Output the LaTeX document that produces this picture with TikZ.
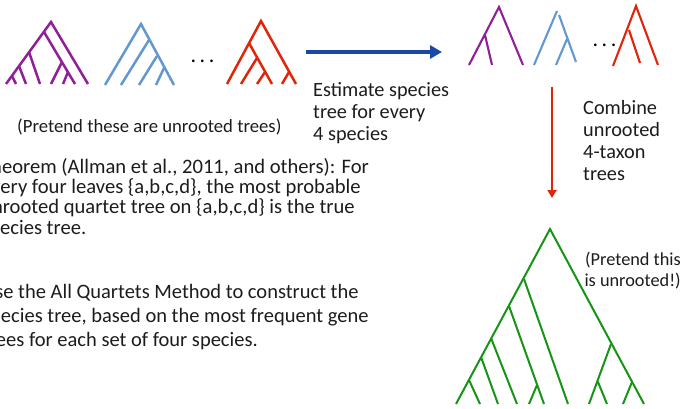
\documentclass[tikz,border=0pt]{standalone}
\usepackage{fontspec}
\setmainfont{Carlito}
\usetikzlibrary{arrows.meta}
\definecolor{gpurple}{RGB}{143,32,150}
\definecolor{gblue}{RGB}{98,152,206}
\definecolor{gred}{RGB}{224,38,10}
\definecolor{sgreen}{RGB}{22,148,22}
\definecolor{arrblue}{RGB}{24,72,168}
\definecolor{txt}{RGB}{28,28,28}
\tikzset{
  gbranch/.style={line width=2.5pt},
  qbranch/.style={line width=2.1pt},
  sbranch/.style={line width=2pt, sgreen},
  arr/.style={-{Triangle[length=12pt, width=13pt]}, line width=4pt, arrblue},
  rarr/.style={-{Triangle[length=8pt, width=9pt]}, line width=2.6pt, gred},
  note/.style={inner sep=0pt, align=left, text=txt, anchor=base west},
  dots/.style={inner sep=0pt, anchor=base, text=black, font=\fontsize{22}{26}\selectfont},
}

\begin{document}
\begin{tikzpicture}[x=1pt, y=-1pt]
\useasboundingbox (0,0) rectangle (685,409);
\clip (0,0) rectangle (685,409);

% gene trees
\foreach \x [count=\i] in {6,16,26,40,51,63,75,88} \coordinate (pl\i) at (\x,84);
\coordinate (pr) at (51,22);
\coordinate (pa) at (44,32);
\coordinate (pb) at (29,52);
\coordinate (pc) at (19,66);
\coordinate (pd) at (12,76);
\coordinate (pe) at (62,62);
\coordinate (pf) at (68,72);
\draw[gbranch, gpurple] (pl1) -- (pr) -- (pl8);
\draw[gbranch, gpurple] (pa) -- (pl7) (pb) -- (pl4) (pc) -- (pl3) (pd) -- (pl2) (pe) -- (pl5) (pf) -- (pl6);

\foreach \x [count=\i] in {105,121,139,156,174} \coordinate (bl\i) at (\x,85);
\coordinate (br) at (141,24);
\coordinate (ba) at (149,40);
\coordinate (bb) at (157,56);
\coordinate (bc) at (164,68);
\draw[gbranch, gblue] (bl1) -- (br) -- (bl5);
\draw[gbranch, gblue] (ba) -- (bl2) (bb) -- (bl3) (bc) -- (bl4);

\node[dots] (gdots) at (202.5,63) {.\,.\,.};

\foreach \x [count=\i] in {227,241,257,272,282,296} \coordinate (rl\i) at (\x,84);
\coordinate (rr) at (261,21);
\coordinate (ra) at (249,43);
\coordinate (rb) at (257,58);
\coordinate (rc) at (265,72);
\coordinate (rd) at (289,72);
\draw[gbranch, gred] (rl1) -- (rr) -- (rl6);
\draw[gbranch, gred] (ra) -- (rl4) (rb) -- (rl2) (rc) -- (rl3) (rd) -- (rl5);

\node[note, font=\fontsize{18.7}{21}\selectfont] (pretend) at (17,132) {(Pretend these are unrooted trees)};

% quartet trees
\draw[arr] (306,52) coordinate (a1) -- (442,52) coordinate (a2);
\node[note, font=\fontsize{20.3}{22}\selectfont] (estimate) at (313,141) {Estimate species\\tree for every\\4 species};

\coordinate (qpr) at (499,7);
\coordinate (qpa) at (485,35);
\coordinate (qp1) at (469,65);
\coordinate (qp2) at (492,65);
\coordinate (qp3) at (523,65);
\draw[qbranch, gpurple] (qp1) -- (qpr) -- (qp3) (qpa) -- (qp2);

\coordinate (qb1) at (557,11);
\coordinate (qb2) at (534,65);
\coordinate (qb3) at (559,15);
\coordinate (qb4) at (576,62);
\coordinate (qba) at (567,39);
\coordinate (qb5) at (556,65);
\draw[qbranch, gblue] (qb1) -- (qb2) (qb3) -- (qb4) (qba) -- (qb5);

\node[dots] (qdots) at (604.5,47) {.\,.\,.};

\coordinate (qrr) at (636,6);
\coordinate (qr1) at (613,66);
\coordinate (qr2) at (658,65);
\coordinate (qra) at (629,30);
\coordinate (qr3) at (640,63);
\draw[qbranch, gred] (qr1) -- (qrr) -- (qr2) (qra) -- (qr3);

\draw[rarr] (552,87) coordinate (c1) -- (552,198) coordinate (c2);
\node[note, font=\fontsize{20.3}{21.7}\selectfont] (combine) at (583,180) {Combine\\unrooted\\4-taxon\\trees};

% species tree
\coordinate (sr) at (550,229);
\foreach \x [count=\i] in {456,480,498,517,529,544,568,589,607,623,644} \coordinate (sl\i) at (\x,404);
\coordinate (sa) at (524,279);
\coordinate (sb) at (509,306);
\coordinate (sc) at (537,385);
\coordinate (sd) at (491,338);
\coordinate (se) at (481,357);
\coordinate (sf) at (469,380);
\coordinate (sg) at (611,344);
\coordinate (sh) at (598,382);
\coordinate (si) at (632,382);
\draw[sbranch] (sl1) -- (sr) -- (sl11);
\draw[sbranch] (sa) -- (sl7) (sb) -- (sl6) (sc) -- (sl5) (sd) -- (sl4) (se) -- (sl3) (sf) -- (sl2);
\draw[sbranch] (sg) -- (sl8) (sh) -- (sl9) (si) -- (sl10);
\node[note, align=right, anchor=base east, font=\fontsize{18.3}{21}\selectfont] (unrooted) at (681,286) {(Pretend this\\is unrooted!)};

% statements
\node[note, font=\fontsize{20.6}{20.3}\selectfont] (theorem) at (-19,234) {Theorem (Allman et al., 2011, and others): For\\every four leaves \{a,b,c,d\}, the most probable\\unrooted quartet tree on \{a,b,c,d\} is the true\\species tree.};
\node[note, font=\fontsize{20.5}{24}\selectfont] (method) at (-18,346) {Use the All Quartets Method to construct the\\species tree, based on the most frequent gene\\trees for each set of four species.};
\end{tikzpicture}
\end{document}
